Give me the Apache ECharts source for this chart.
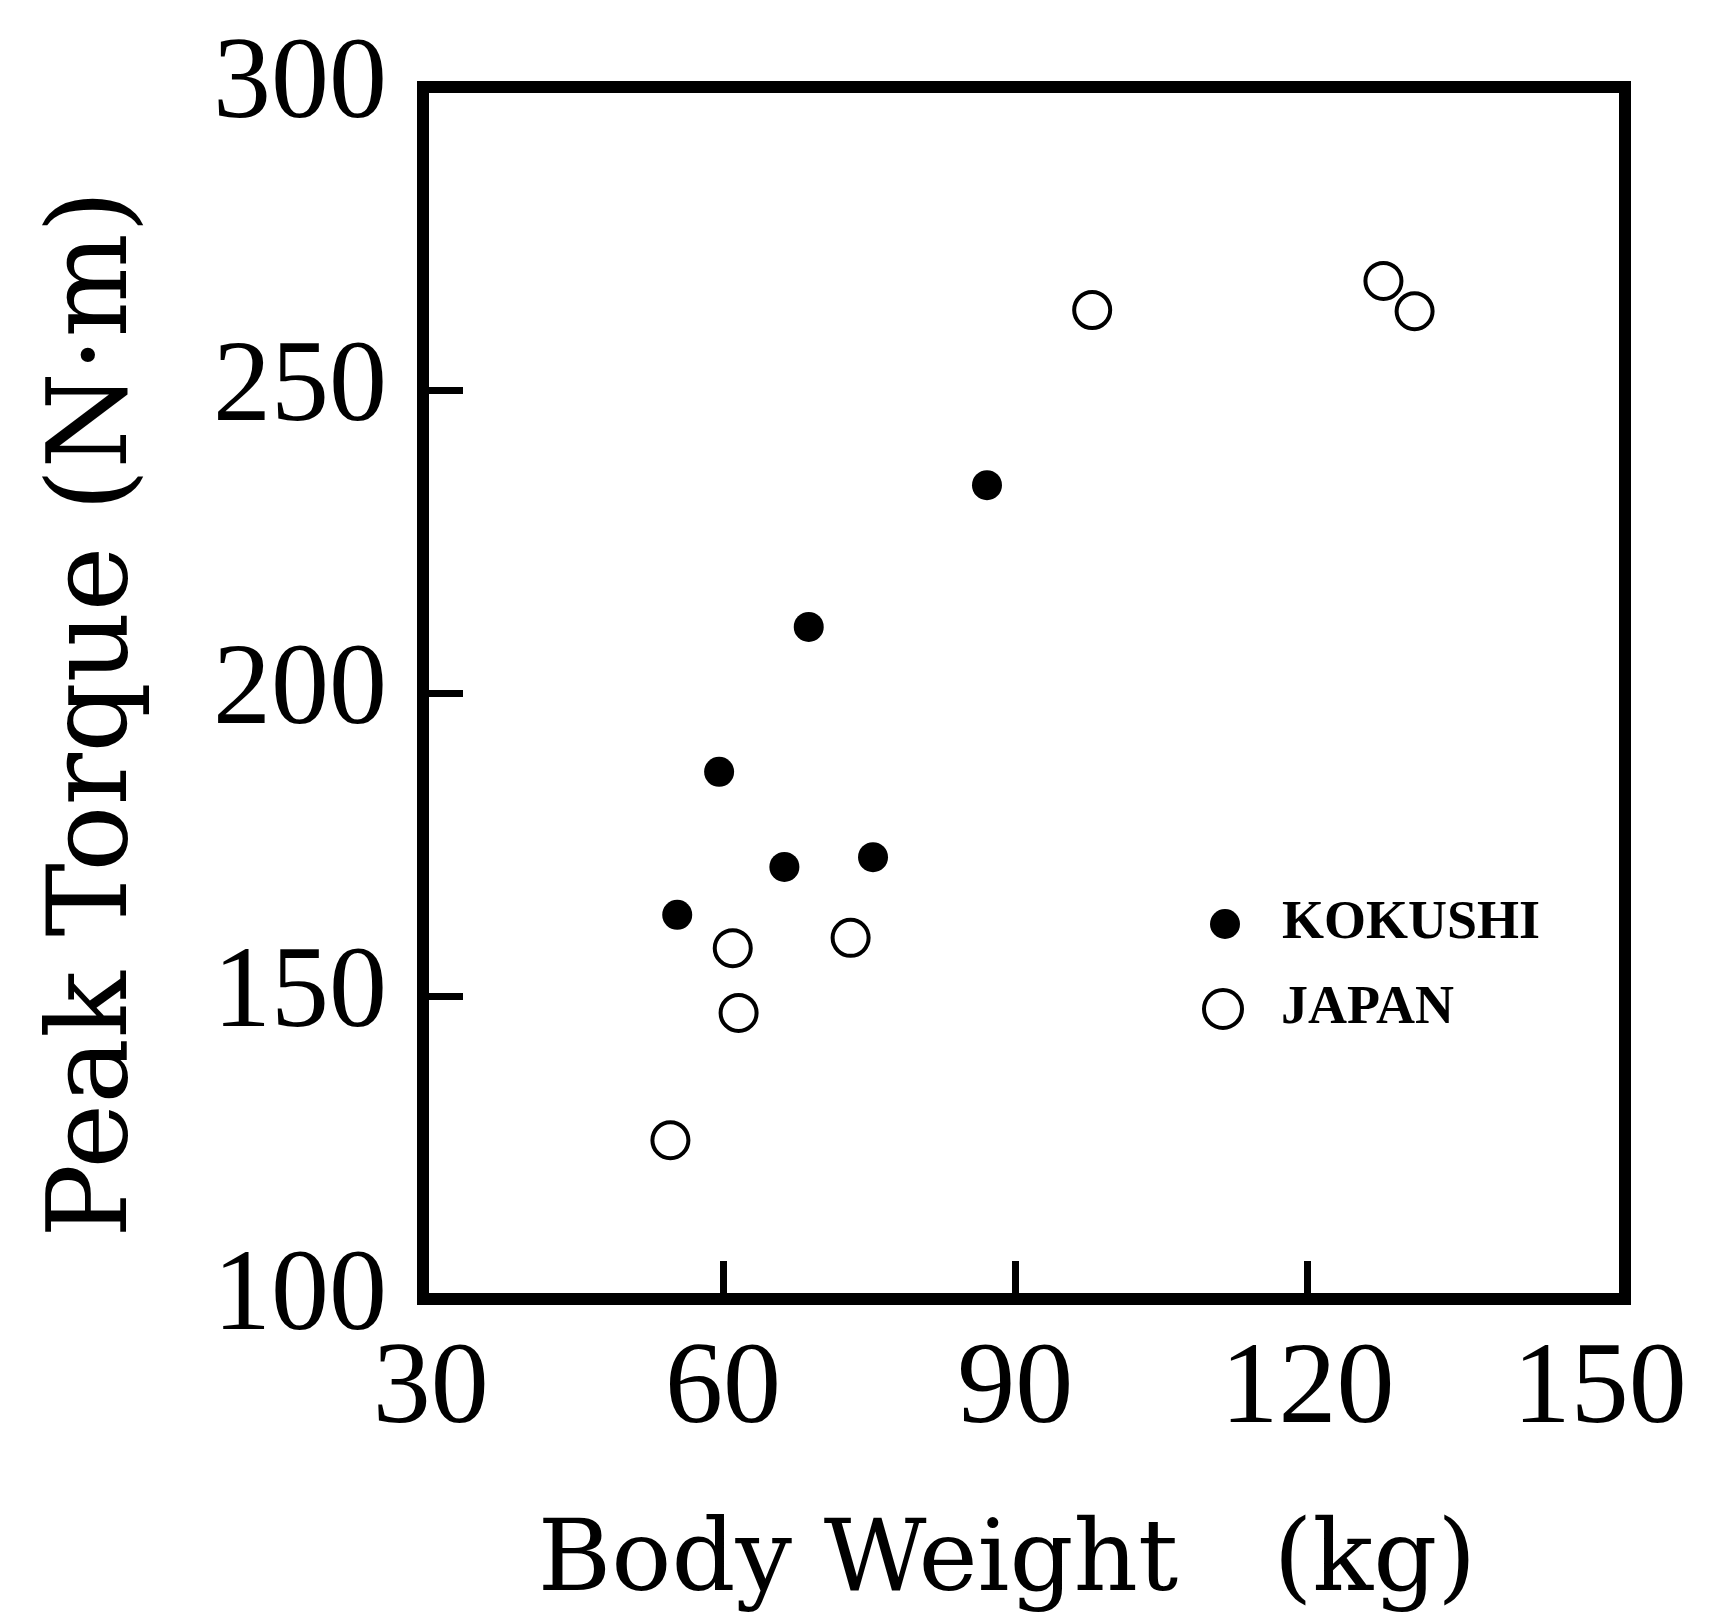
<!DOCTYPE html>
<html>
<head>
<meta charset="utf-8">
<script src="https://cdn.jsdelivr.net/npm/echarts@6/dist/echarts.min.js"></script>
<style>
html,body{margin:0;padding:0;background:#fff;}
#chart{width:1716px;height:1621px;}
</style>
</head>
<body>
<div id="chart"></div>
<script>
// Data
const kokushiWeight = [87.1, 68.8, 59.6, 66.3, 75.4, 55.3];
const kokushiTorque = [234.3, 210.9, 187.0, 171.3, 172.9, 163.4];
const japanWeight = [97.9, 127.8, 131.0, 61.0, 73.1, 61.6, 54.6];
const japanTorque = [263.2, 268.0, 263.0, 157.9, 159.6, 147.2, 126.2];
const xTickLabels = [30, 60, 90, 120, 150];
const xTickMarks = [60, 90, 120];
const seriesNames = ['KOKUSHI', 'JAPAN'];
const xTitle = 'Body Weight   (kg)';
const yTitle = 'Peak Torque (N·m)';

const kokushiData = kokushiWeight.map((w, i) => [w, kokushiTorque[i]]);
const japanData = japanWeight.map((w, i) => [w, japanTorque[i]]);

const chart = echarts.init(document.getElementById('chart'));
const labelFont = 'Liberation Serif';
const titleFont = 'DejaVu Serif';

chart.setOption({
  animation: false,
  backgroundColor: '#fff',
  grid: {
    left: 423, right: 91, top: 87, bottom: 322,
    show: true, borderColor: '#000', borderWidth: 12, backgroundColor: 'transparent'
  },
  xAxis: {
    type: 'value',
    min: 29.2, max: 152.6,
    splitLine: {show: false},
    axisLine: {show: false},
    axisTick: {show: true, inside: true, length: 38, customValues: xTickMarks,
      lineStyle: {color: '#000', width: 7}},
    axisLabel: {customValues: xTickLabels, fontFamily: labelFont, fontSize: 116,
      color: '#000', margin: 35, lineHeight: 116, showMinLabel: true, showMaxLabel: true},
    name: xTitle,
    nameLocation: 'middle',
    nameGap: 215,
    nameMoveOverlap: false,
    nameTextStyle: {fontFamily: titleFont, fontSize: 100, color: '#000', padding: [0, 34, 0, 0]}
  },
  yAxis: {
    type: 'value',
    min: 100, max: 300, interval: 50,
    splitLine: {show: false},
    axisLine: {show: false},
    axisTick: {show: true, inside: true, length: 40, lineStyle: {color: '#000', width: 7}},
    axisLabel: {fontFamily: labelFont, fontSize: 116, color: '#000', margin: 36, lineHeight: 116},
    name: yTitle,
    nameLocation: 'middle',
    nameRotate: 90,
    nameGap: 271,
    nameMoveOverlap: false,
    nameTextStyle: {fontFamily: titleFont, fontSize: 110, color: '#000', padding: [0, 42, 0, 0]}
  },
  legend: [
    {
      data: [{name: seriesNames[0], icon: 'circle', itemStyle: {color: '#000', borderWidth: 0}}],
      left: 1210, top: 897, padding: 0,
      itemWidth: 104, itemHeight: 30,
      textStyle: {fontFamily: labelFont, fontWeight: 'bold', fontSize: 54, color: '#000'},
      selectedMode: false
    },
    {
      data: [{name: seriesNames[1], icon: 'circle',
        itemStyle: {color: 'transparent', borderColor: '#000', borderWidth: 4}}],
      left: 1202, top: 982, padding: 0,
      itemWidth: 106, itemHeight: 38,
      textStyle: {fontFamily: labelFont, fontWeight: 'bold', fontSize: 54, color: '#000'},
      selectedMode: false
    }
  ],
  series: [
    {
      name: seriesNames[0], type: 'scatter', symbol: 'circle', symbolSize: 30,
      itemStyle: {color: '#000', opacity: 1},
      data: kokushiData
    },
    {
      name: seriesNames[1], type: 'scatter', symbol: 'circle', symbolSize: 36,
      itemStyle: {color: 'transparent', borderColor: '#000', borderWidth: 4, opacity: 1},
      data: japanData
    }
  ]
});
</script>
</body>
</html>
